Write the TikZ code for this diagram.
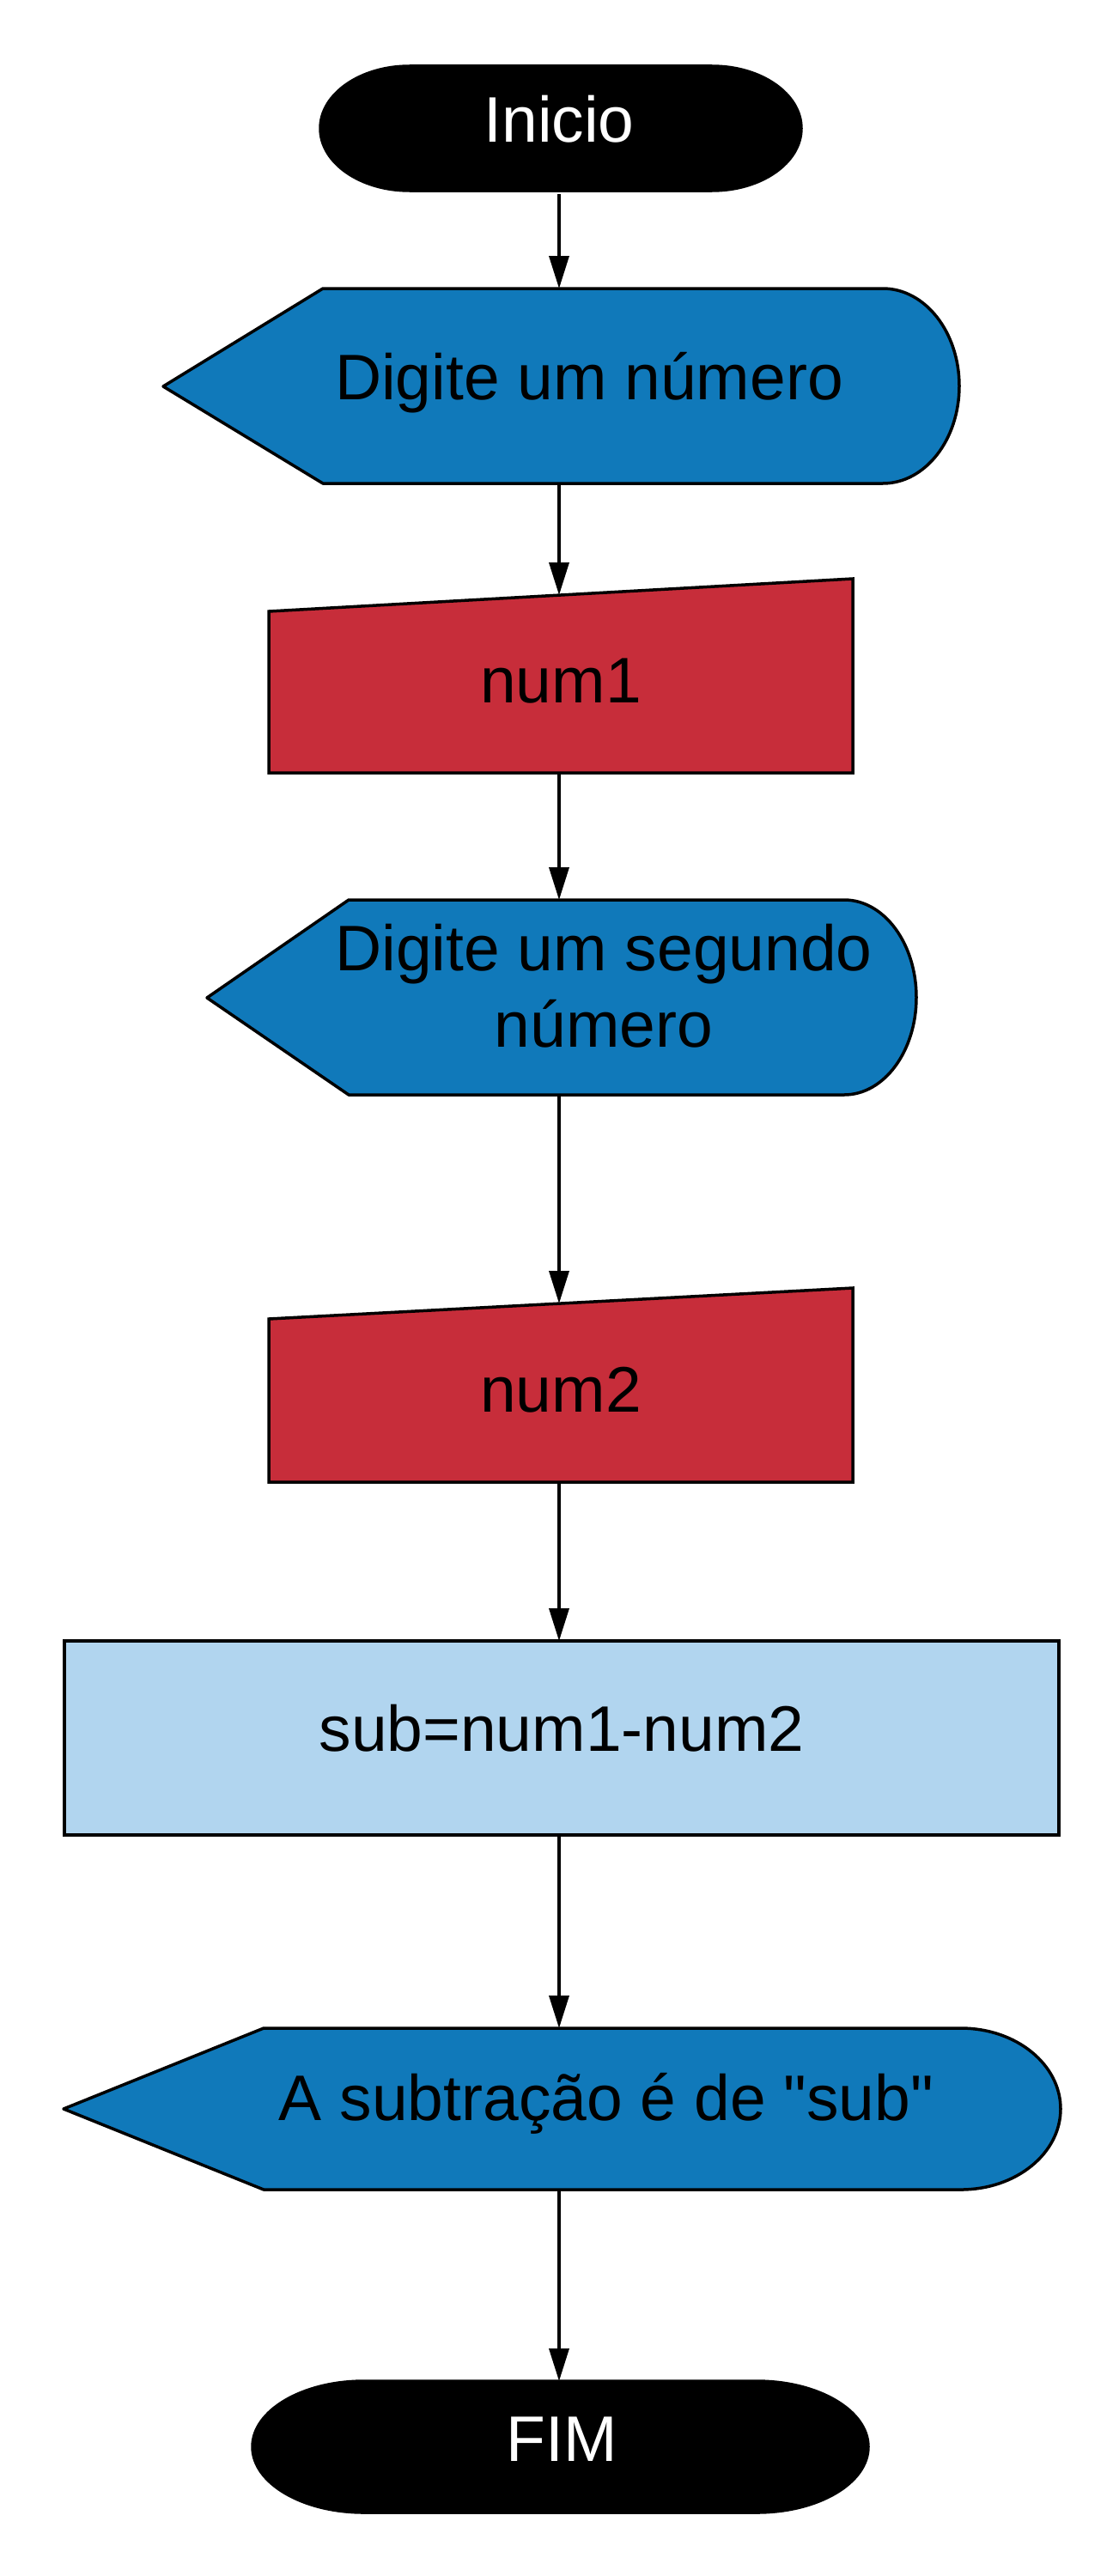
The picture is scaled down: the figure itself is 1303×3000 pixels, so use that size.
\documentclass[tikz,border=0pt]{standalone}
\usepackage{fontspec}
\setmainfont{Liberation Sans}
\usetikzlibrary{arrows.meta}
\definecolor{outblue}{HTML}{1079BA}
\definecolor{inred}{HTML}{C72D3A}
\definecolor{procblue}{HTML}{B1D5EF}
\tikzset{
  term/.style={fill=black,draw=black,line width=3.5pt},
  outbox/.style={fill=outblue,draw=black,line width=3.5pt,line join=round},
  inbox/.style={fill=inred,draw=black,line width=3.5pt},
  procbox/.style={fill=procblue,draw=black,line width=3.5pt},
  txt/.style={anchor=base,align=center,inner sep=0pt,font=\fontsize{75}{89}\selectfont},
  wtxt/.style={txt,text=white},
  ar/.style={-{Triangle[length=38pt,width=23pt]},draw=black,line width=3.5pt},
}

\begin{document}
\begin{tikzpicture}[x=1pt,y=-1pt]
  \useasboundingbox (0,0) rectangle (1303,3000);
  % start / end
  \draw[term] (477,77) -- (829,77) arc[start angle=-90,end angle=90,x radius=104,y radius=72.5]
    -- (477,222) arc[start angle=90,end angle=270,x radius=104,y radius=72.5] -- cycle;
  \node[wtxt] (inicio) at (651,165) {Inicio};
  \draw[term] (424,2773) -- (881,2773) arc[start angle=-90,end angle=90,x radius=130,y radius=76.5]
    -- (424,2926) arc[start angle=90,end angle=270,x radius=130,y radius=76.5] -- cycle;
  \node[wtxt] (fim) at (654,2866) {FIM};
  % displays
  \draw[outbox] (190,450) -- (376,336) -- (1028,336) arc[start angle=-90,end angle=90,x radius=89,y radius=113.5]
    -- (376,563) -- cycle;
  \node[txt] (msg1) at (686,465) {Digite um número};
  \draw[outbox] (241,1162) -- (406,1048) -- (983,1048) arc[start angle=-90,end angle=90,x radius=84,y radius=113.5]
    -- (406,1275) -- cycle;
  \node[txt] (msg2) at (703,1219) {Digite um segundo\\número};
  \draw[outbox] (74,2456) -- (307,2362) -- (1119,2362) arc[start angle=-90,end angle=90,x radius=116,y radius=94]
    -- (307,2550) -- cycle;
  \node[txt] (msg3) at (706,2469) {A subtração é de \textquotedbl sub\textquotedbl};
  % inputs
  \draw[inbox] (313,712) -- (993,674) -- (993,900) -- (313,900) -- cycle;
  \node[txt] (num1) at (653,818) {num1};
  \draw[inbox] (313,1536) -- (993,1500) -- (993,1726) -- (313,1726) -- cycle;
  \node[txt] (num2) at (653,1644) {num2};
  % process
  \draw[procbox] (75,1911) rectangle (1233,2137);
  \node[txt] (sub) at (654,2039) {sub=num1-num2};
  % connector ends
  \coordinate (inicio-s) at (651,226);
  \coordinate (msg1-n) at (651,336);
  \coordinate (msg1-s) at (651,563);
  \coordinate (num1-n) at (651,693);
  \coordinate (num1-s) at (651,900);
  \coordinate (msg2-n) at (651,1048);
  \coordinate (msg2-s) at (651,1275);
  \coordinate (num2-n) at (651,1518);
  \coordinate (num2-s) at (651,1726);
  \coordinate (sub-n) at (651,1911);
  \coordinate (sub-s) at (651,2137);
  \coordinate (msg3-n) at (651,2362);
  \coordinate (msg3-s) at (651,2550);
  \coordinate (fim-n) at (651,2773);
  \foreach \a/\b in {inicio-s/msg1-n,msg1-s/num1-n,num1-s/msg2-n,msg2-s/num2-n,num2-s/sub-n,sub-s/msg3-n,msg3-s/fim-n}
    \draw[ar] (\a) -- (\b);
\end{tikzpicture}
\end{document}
